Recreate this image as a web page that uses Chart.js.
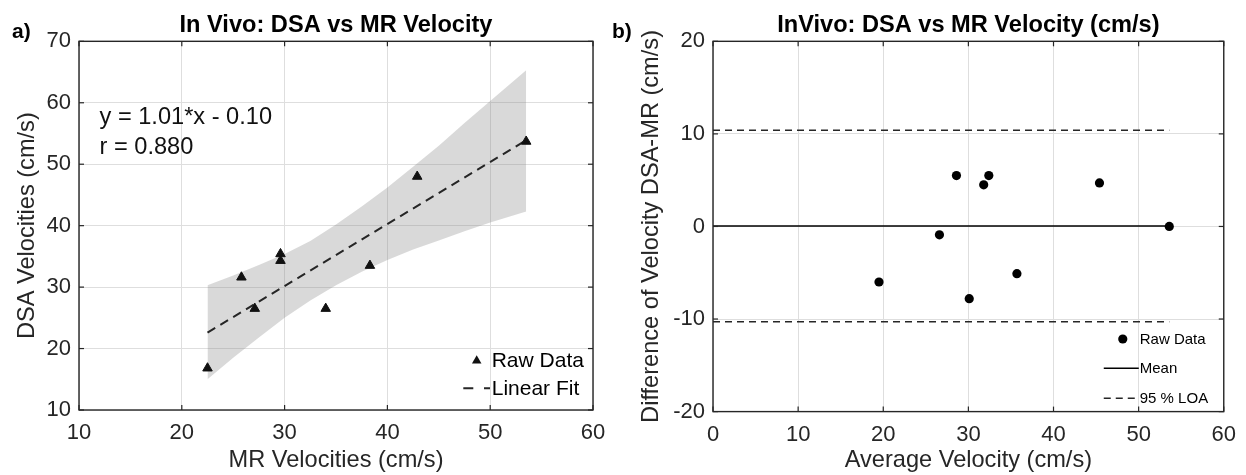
<!DOCTYPE html>
<html><head><meta charset="utf-8">
<script src="https://cdn.jsdelivr.net/npm/chart.js@4.4.1/dist/chart.umd.min.js"></script>
<style>
html,body{margin:0;padding:0;background:#fff;}
#wrap{position:relative;width:1246px;height:475px;overflow:hidden;background:#fff;}
canvas{position:absolute;top:0;}
#cA{left:0;}
#cB{left:600px;}
</style></head><body>
<div id="wrap"><canvas id="cA" width="650" height="475"></canvas><canvas id="cB" width="646" height="475"></canvas></div>
<script>
// ---------- data ----------
const mrVel   = [22.5, 25.8, 27.1, 29.6, 29.6, 34.0, 38.3, 42.9, 53.5];
const dsaVel  = [16.8, 31.6, 26.5, 35.4, 34.3, 26.5, 33.5, 48.0, 53.7];
const fitX    = [22.5, 53.5];
const fitY    = [22.6, 53.9];
const bandX     = [22.5, 25.0, 27.5, 30.0, 32.5, 35.0, 37.5, 40.0, 42.5, 45.0, 47.5, 50.0, 53.5];
const bandUpper = [30.3, 31.9, 33.6, 35.4, 37.5, 40.2, 43.1, 46.2, 49.6, 53.0, 56.7, 60.3, 65.3];
const bandLower = [15.0, 18.5, 21.8, 25.0, 27.8, 30.3, 32.5, 34.4, 36.1, 37.6, 39.1, 40.5, 42.3];
const avgVel  = [19.5, 28.6, 32.4, 31.8, 26.6, 30.1, 35.7, 45.4, 53.6];
const diffVel = [-6.0, 5.5, 5.5, 4.5, -0.9, -7.8, -5.1, 4.7, 0.0];
const refLineX = [0, 53.6];
const meanDiff = 0.05;
const loaUpper = 10.4;
const loaLower = -10.3;
const xTicksA = [10, 20, 30, 40, 50, 60];
const yTicksA = [10, 20, 30, 40, 50, 60, 70];
const xTicksB = [0, 10, 20, 30, 40, 50, 60];
const yTicksB = [-20, -10, 0, 10, 20];
const fitText = ['y = 1.01*x - 0.10', 'r = 0.880'];

// ---------- styling ----------
const FONT = "'Liberation Sans', Arial, Helvetica, sans-serif";
Chart.defaults.font.family = FONT;
const AX = '#262626';
const GRID = '#dedede';

const pts = (xs, ys) => xs.map((x, i) => ({x, y: ys[i]}));
const setTicks = arr => s => { s.ticks = arr.map(v => ({value: v})); };

function tri(ctx, x, y, r) {
  ctx.beginPath();
  ctx.moveTo(x, y - r);
  ctx.lineTo(x + r * Math.sin(2*Math.PI/3), y - r * Math.cos(2*Math.PI/3));
  ctx.lineTo(x - r * Math.sin(2*Math.PI/3), y - r * Math.cos(2*Math.PI/3));
  ctx.closePath();
  ctx.fill();
}
function seg(ctx, x1, y1, x2, y2) { ctx.beginPath(); ctx.moveTo(x1, y1); ctx.lineTo(x2, y2); ctx.stroke(); }

const frame = {
  id: 'frame',
  afterDatasetsDraw(chart) {
    const {ctx, chartArea: a, scales: {x, y}} = chart;
    ctx.save();
    ctx.strokeStyle = AX;
    ctx.lineWidth = 1.4;
    ctx.strokeRect(a.left, a.top, a.right - a.left, a.bottom - a.top);
    ctx.lineWidth = 1.2;
    const L = 5;
    x.ticks.forEach(t => { const p = x.getPixelForValue(t.value); seg(ctx, p, a.bottom, p, a.bottom - L); seg(ctx, p, a.top, p, a.top + L); });
    y.ticks.forEach(t => { const p = y.getPixelForValue(t.value); seg(ctx, a.left, p, a.left + L, p); seg(ctx, a.right, p, a.right - L, p); });
    ctx.restore();
  }
};

function panelLabel(txt) {
  return {
    id: 'panel' + txt,
    afterDraw(chart) {
      const ctx = chart.ctx;
      ctx.save();
      ctx.font = `bold 21px ${FONT}`;
      ctx.fillStyle = '#000';
      ctx.textAlign = 'left';
      ctx.textBaseline = 'alphabetic';
      ctx.fillText(txt, 12, 38);
      ctx.restore();
    }
  };
}

const annotA = {
  id: 'annotA',
  afterDraw(chart) {
    const {ctx, scales: {x, y}} = chart;
    ctx.save();
    ctx.font = `23.6px ${FONT}`;
    ctx.fillStyle = '#111';
    ctx.textAlign = 'left';
    ctx.textBaseline = 'alphabetic';
    ctx.fillText(fitText[0], x.getPixelForValue(12), y.getPixelForValue(56.6));
    ctx.fillText(fitText[1], x.getPixelForValue(12), y.getPixelForValue(51.7));
    ctx.restore();
  }
};

const legendA = {
  id: 'legendA',
  afterDraw(chart) {
    const {ctx, chartArea: a} = chart;
    const ds = chart.data.datasets;
    const r1 = a.bottom - 49.3, r2 = a.bottom - 21.7, tx = a.right - 101.3;
    ctx.save();
    ctx.fillStyle = '#111';
    tri(ctx, a.right - 116.3, r1, 5.5);
    ctx.strokeStyle = AX; ctx.lineWidth = 2; ctx.setLineDash([10, 10.7]);
    seg(ctx, a.right - 129.7, r2, a.right - 103, r2);
    ctx.setLineDash([]);
    ctx.font = `21px ${FONT}`;
    ctx.fillStyle = '#000';
    ctx.textAlign = 'left'; ctx.textBaseline = 'middle';
    ctx.fillText(ds[0].label, tx, r1 + 1);
    ctx.fillText(ds[1].label, tx, r2 + 1);
    ctx.restore();
  }
};

const legendB = {
  id: 'legendB',
  afterDraw(chart) {
    const {ctx, chartArea: a} = chart;
    const ds = chart.data.datasets;
    const r1 = a.bottom - 72.6, r2 = a.bottom - 43.3, r3 = a.bottom - 13.3, tx = a.right - 84;
    ctx.save();
    ctx.fillStyle = '#000';
    ctx.beginPath(); ctx.arc(a.right - 101, r1, 4.6, 0, Math.PI * 2); ctx.fill();
    ctx.strokeStyle = '#000'; ctx.lineWidth = 1.5;
    seg(ctx, a.right - 120, r2, a.right - 85, r2);
    ctx.strokeStyle = AX; ctx.setLineDash([7, 5]);
    seg(ctx, a.right - 120, r3, a.right - 85, r3);
    ctx.setLineDash([]);
    ctx.font = `15px ${FONT}`;
    ctx.fillStyle = '#000';
    ctx.textAlign = 'left'; ctx.textBaseline = 'middle';
    ctx.fillText(ds[0].label, tx, r1 + 1);
    ctx.fillText(ds[1].label, tx, r2 + 1);
    ctx.fillText(ds[2].label, tx, r3 + 1);
    ctx.restore();
  }
};

function axisOpts(min, max, ticksArr, fitFn, titleText, titlePad, tickPad) {
  return {
    type: 'linear', min, max,
    afterBuildTicks: setTicks(ticksArr),
    afterFit: fitFn,
    grid: {color: GRID, lineWidth: 1, drawTicks: false},
    border: {display: false},
    ticks: {padding: tickPad, font: {size: 22}, color: AX},
    title: {display: true, text: titleText, font: {size: 23.6}, color: AX, padding: titlePad}
  };
}

// ---------- chart a ----------
new Chart(document.getElementById('cA'), {
  type: 'scatter',
  data: {
    datasets: [
      {label: 'Raw Data', data: pts(mrVel, dsaVel), pointStyle: 'triangle', pointRadius: 5.5,
       backgroundColor: '#111', borderColor: '#111', borderWidth: 1, showLine: false},
      {label: 'Linear Fit', data: pts(fitX, fitY), showLine: true, borderColor: AX, borderWidth: 2,
       borderDash: [9, 6], pointRadius: 0, fill: false},
      {label: 'Confidence band upper', data: pts(bandX, bandUpper), showLine: true, borderWidth: 0,
       borderColor: 'rgba(0,0,0,0)', pointRadius: 0, fill: '+1', backgroundColor: 'rgba(128,128,128,0.3)', tension: 0},
      {label: 'Confidence band lower', data: pts(bandX, bandLower), showLine: true, borderWidth: 0,
       borderColor: 'rgba(0,0,0,0)', pointRadius: 0, fill: false, tension: 0}
    ]
  },
  options: {
    responsive: false, animation: false, events: [],
    layout: {padding: {left: 0, right: 57, top: 0, bottom: 0}},
    plugins: {
      legend: {display: false}, tooltip: {enabled: false},
      title: {display: true, text: 'In Vivo: DSA vs MR Velocity', fullSize: false,
              font: {size: 23.6, weight: 'bold'}, color: '#000', padding: {top: 11, bottom: 2}}
    },
    scales: {
      x: axisOpts(10, 60, xTicksA, s => { s.height = 65; }, 'MR Velocities (cm/s)', {top: 0, bottom: 0}, 10),
      y: axisOpts(10, 70, yTicksA, s => { s.width = 79; }, 'DSA Velocities (cm/s)', {top: 13.3, bottom: 0}, 8)
    }
  },
  plugins: [frame, legendA, annotA, panelLabel('a)')]
});

// ---------- chart b ----------
new Chart(document.getElementById('cB'), {
  type: 'scatter',
  data: {
    datasets: [
      {label: 'Raw Data', data: pts(avgVel, diffVel), pointStyle: 'circle', pointRadius: 4.6,
       backgroundColor: '#000', borderColor: '#000', borderWidth: 0, showLine: false},
      {label: 'Mean', data: pts(refLineX, refLineX.map(() => meanDiff)), showLine: true,
       borderColor: '#000', borderWidth: 1.5, pointRadius: 0, fill: false},
      {label: '95 % LOA', data: pts(refLineX, refLineX.map(() => loaUpper)), showLine: true,
       borderColor: AX, borderWidth: 1.5, borderDash: [7, 5], pointRadius: 0, fill: false},
      {label: '95 % LOA lower', data: pts(refLineX, refLineX.map(() => loaLower)), showLine: true,
       borderColor: AX, borderWidth: 1.5, borderDash: [7, 5], pointRadius: 0, fill: false}
    ]
  },
  options: {
    responsive: false, animation: false, events: [],
    layout: {padding: {left: 0, right: 18, top: 0, bottom: 0}},
    plugins: {
      legend: {display: false}, tooltip: {enabled: false},
      title: {display: true, text: 'InVivo: DSA vs MR Velocity (cm/s)', fullSize: false,
              font: {size: 23.6, weight: 'bold'}, color: '#000', padding: {top: 11, bottom: 2}}
    },
    scales: {
      x: axisOpts(0, 60, xTicksB, s => { s.height = 63.4; }, 'Average Velocity (cm/s)', {top: 0, bottom: 0}, 10),
      y: axisOpts(-20, 20, yTicksB, s => { s.width = 113; }, 'Difference of Velocity DSA-MR (cm/s)', {top: 37.3, bottom: 0}, 8)
    }
  },
  plugins: [frame, legendB, panelLabel('b)')]
});
</script>
</body></html>
